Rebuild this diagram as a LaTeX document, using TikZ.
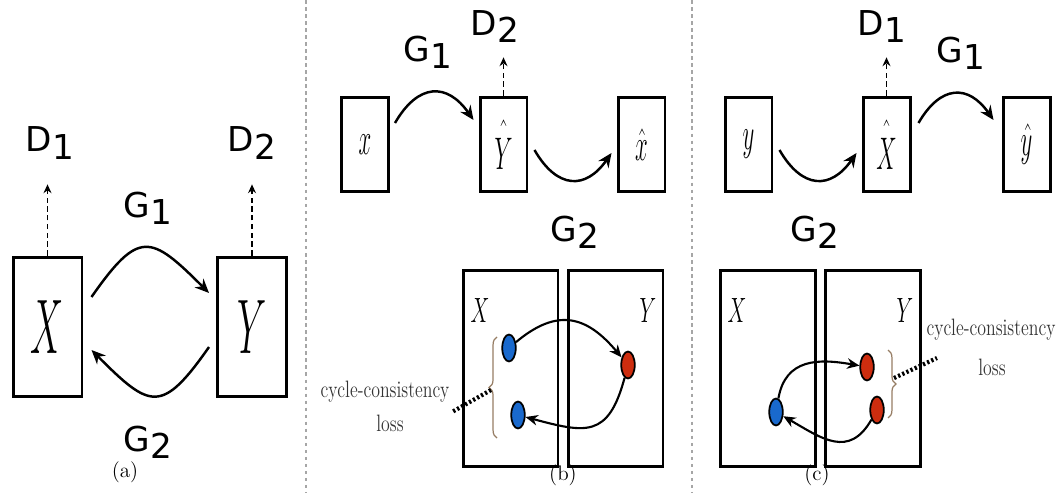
\RequirePackage{fix-cm}
\documentclass[tikz,border=0pt]{standalone}
\usepackage{fontspec}
\usepackage{graphicx}
\newfontfamily\dvs{DejaVu Sans}
\usetikzlibrary{
	positioning,
	arrows.meta,
	shapes.geometric,
	decorations.pathreplacing
}
\definecolor{dotblue}{RGB}{25,105,205}
\definecolor{dotred}{RGB}{205,45,15}
\definecolor{bracec}{RGB}{150,125,100}
\colorlet{txtc}{black!80}
\tikzset{
	every picture/.style={
		x=0.02cm,
		y=0.02cm,
	},
}
\tikzstyle{box} = [
	rectangle,
	draw,
	line width=1.7pt,
	inner sep=0mm
]
\tikzstyle{abox}=[box, minimum width=1.38cm, minimum height=2.8cm, font=\fontsize{44}{44}\selectfont]
\tikzstyle{sbox}=[box, minimum width=0.94cm, minimum height=1.9cm, font=\fontsize{26}{26}\selectfont]
\tikzstyle{lbox}=[box, minimum width=1.9cm, minimum height=3.94cm]
\tikzstyle{glbl}=[inner sep=0mm, font=\dvs\fontsize{19.5}{20}\selectfont]
\tikzstyle{slbl}=[inner sep=0mm, font=\fontsize{20}{20}\selectfont]
\tikzstyle{gen}=[-{Stealth[length=8pt,width=7pt]}, line width=1.4pt]
\tikzstyle{gen2}=[-{Stealth[length=7pt,width=6pt]}, line width=1.2pt]
\tikzstyle{disc}=[-{Stealth[length=5pt,width=4.5pt]}, densely dashed, line width=1pt]
\tikzstyle{dot}=[ellipse, draw, line width=1pt, minimum width=0.27cm, minimum height=0.54cm, inner sep=0mm]
\tikzstyle{brc}=[decorate, decoration={brace, amplitude=4.5pt}, draw=bracec, line width=0.7pt]
\tikzstyle{lossline}=[line width=2.4pt, dash pattern=on 1.3pt off 1.3pt]
\tikzstyle{note}=[inner sep=0mm, text=txtc, font=\fontsize{13.5}{13.5}\selectfont]
\tikzstyle{capt}=[inner sep=0mm, font=\fontsize{12}{12}\selectfont]
\tikzstyle{sep}=[draw=black!35, dash pattern=on 2pt off 2pt, line width=0.8pt]
\newcommand{\nar}[2]{\scalebox{#1}[1]{$#2$}}
\newcommand{\gd}[2]{#1\raisebox{-4pt}{#2}}
\newcommand{\hh}[1]{\hat{\rule{0pt}{0.82em}#1}}

\begin{document}
\begin{tikzpicture}
\useasboundingbox (0,0) rectangle (1058,-493);
\draw[sep] (306,0) -- (306,-493);
\draw[sep] (692,0) -- (692,-493);

% (a)
\node[abox] (X) at (47.5,-327) {\nar{.48}{X}};
\node[abox] (Y) at (252,-327) {\nar{.48}{Y}};
\node[glbl] (dA1) at (50,-143) {\gd{D}{1}};
\node[glbl] (dA2) at (252,-143) {\gd{D}{2}};
\node[glbl] (gA1) at (148,-208) {\gd{G}{1}};
\node[glbl] (gA2) at (148,-442) {\gd{G}{2}};
\draw[disc, shorten >=0.5cm] (X.north) -- (X.north |- dA1.south);
\draw[disc, shorten >=0.5cm] (Y.north) -- (Y.north |- dA2.south);
\draw[gen] ([shift={(8,30)}]X.east) to[out=55, in=135, looseness=1.8] ([shift={(-7,34)}]Y.west);
\draw[gen] ([shift={(-7,-20)}]Y.west) to[out=-125, in=-45, looseness=1.8] ([shift={(8,-23)}]X.east);
\node[capt] (capa) at (125,-472) {(a)};

% (b)
\node[sbox] (xb) at (365,-144.5) {\nar{.5}{x}};
\node[sbox] (Yb) at (503.5,-144.5) {\nar{.5}{\hh{Y}}};
\node[sbox] (xbh) at (641.5,-144.5) {\nar{.5}{\hat{x}}};
\node[glbl] (gB1) at (428,-52) {\gd{G}{1}};
\node[glbl] (dB2) at (495,-27) {\gd{D}{2}};
\node[glbl] (gB2) at (575,-232) {\gd{G}{2}};
\draw[disc, shorten >=0.28cm] (Yb.north) -- (Yb.north |- dB2.south);
\draw[gen] ([shift={(5,21.5)}]xb.east) to[out=60, in=125, looseness=1.5] ([shift={(-5,24.5)}]Yb.west);
\draw[gen] ([shift={(6,-5.5)}]Yb.east) to[out=-60, in=-125, looseness=1.5] ([shift={(-5,-8.5)}]xbh.west);

\node[lbox] (bX) at (510.5,-368.5) {};
\node[lbox] (bY) at (615.5,-368.5) {};
\node[slbl] (bXl) at (480,-310) {\nar{.6}{X}};
\node[slbl] (bYl) at (648,-310) {\nar{.6}{Y}};
\node[dot, fill=dotblue] (b1) at (509,-348) {};
\node[dot, fill=dotblue] (b2) at (518,-415) {};
\node[dot, fill=dotred] (br) at (628,-365) {};
\draw[gen2] (b1) to[out=40, in=130, looseness=1.3] (br);
\draw[gen2] (br) to[out=-105, in=-15, looseness=1.5] (b2);
\draw[brc] (497,-438) -- (497,-337);
\coordinate (tipb) at (491,-390);
\coordinate (endb) at (452,-412);
\draw[lossline] (tipb) -- (endb);
\node[note] (nb1) at (385,-392) {\scalebox{.75}[1]{cycle-consistency}};
\node[note] (nb2) at (390,-423) {\scalebox{.75}[1]{loss}};
\node[capt] (capb) at (563,-475) {(b)};

% (c)
\node[sbox] (yc) at (748.5,-144.5) {\nar{.5}{y}};
\node[sbox] (Xc) at (886.5,-144.5) {\nar{.5}{\hh{X}}};
\node[sbox] (ych) at (1026.5,-144.5) {\nar{.5}{\hat{y}}};
\node[glbl] (dC1) at (882,-27) {\gd{D}{1}};
\node[glbl] (gC1) at (961,-53) {\gd{G}{1}};
\node[glbl] (gC2) at (815,-232) {\gd{G}{2}};
\draw[disc, shorten >=0.28cm] (Xc.north) -- (Xc.north |- dC1.south);
\draw[gen] ([shift={(6,-5.5)}]yc.east) to[out=-60, in=-125, looseness=1.5] ([shift={(-5,-8.5)}]Xc.west);
\draw[gen] ([shift={(7,21.5)}]Xc.east) to[out=60, in=125, looseness=1.5] ([shift={(-8,24.5)}]ych.west);

\node[lbox] (cX) at (768,-368.5) {};
\node[lbox] (cY) at (873,-368.5) {};
\node[slbl] (cXl) at (737,-310) {\nar{.6}{X}};
\node[slbl] (cYl) at (905,-310) {\nar{.6}{Y}};
\node[dot, fill=dotblue] (c1) at (776,-412) {};
\node[dot, fill=dotred] (cr1) at (867,-367) {};
\node[dot, fill=dotred] (cr2) at (877,-410) {};
\draw[gen2] (c1) to[out=80, in=170, looseness=1.2] (cr1);
\draw[gen2] (cr2) to[out=-120, in=-30, looseness=1.3] (c1);
\draw[brc] (888,-350) -- (888,-418);
\coordinate (tipc) at (894,-378);
\coordinate (endc) at (937,-358);
\draw[lossline] (tipc) -- (endc);
\node[note] (nc1) at (991,-330) {\scalebox{.75}[1]{cycle-consistency}};
\node[note] (nc2) at (992,-367) {\scalebox{.75}[1]{loss}};
\node[capt] (capc) at (817,-475) {(c)};
\end{tikzpicture}
\end{document}
